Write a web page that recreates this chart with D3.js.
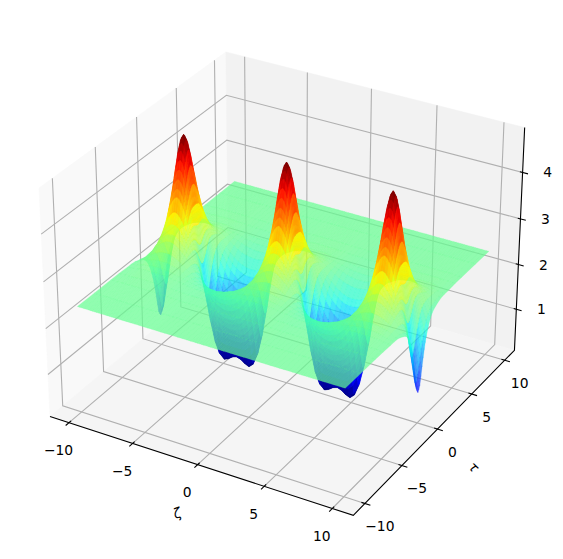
<!DOCTYPE html>
<html><head><meta charset="utf-8">
<script src="https://cdn.jsdelivr.net/npm/d3@7"></script>
<style>html,body{margin:0;padding:0;background:#fff}svg{display:block}text{font-family:"DejaVu Sans";font-size:13.89px;fill:#000}</style>
</head><body><svg id="c" width="563" height="559"></svg>
<script>
const zetaNodes=[-10,-9.82,-9.49,-9.16,-9,-8.83,-8.67,-8.51,-8.345,-8.18,-8.02,-7.85,-7.69,-7.53,-7.36,-7.2,-7.04,-6.87,-6.71,-6.54,-6.22,-5.89,-5.56,-5.24,-4.91,-4.58,-4.25,-3.93,-3.6,-3.27,-2.95,-2.62,-2.29,-1.96,-1.64,-1.31,-1.145,-.98,-.82,-.65,-.49,-.33,-.16,0,.16,.33,.49,.65,.82,.98,1.145,1.31,1.64,1.96,2.29,2.62,2.95,3.27,3.6,3.93,4.25,4.58,4.91,5.24,5.56,5.89,6.22,6.54,6.71,6.87,7.04,7.2,7.36,7.53,7.69,7.85,8.02,8.18,8.345,8.51,8.67,8.83,9,9.16,9.49,9.82,10];
const tauNodes=[-10,-8,-6,-5,-4,-3.5,-3,-2.5,-2,-1.75,-1.5,-1.25,-1,-.875,-.75,-.625,-.5,-.375,-.25,-.125,0,.125,.25,.375,.5,.625,.75,.875,1,1.25,1.5,1.75,2,2.5,3,3.5,4,5,6,8,10];

// one crest profile and one trough profile per tau row, read along zeta
const crest0=[2.18,2.58,2.99,3.42,3.85,4.24,4.56,4.77,4.85,4.77,4.56,4.24,3.85,3.42,2.99,2.58,2.18];
const trough0=[1.48,.92,.50,.26,.17,.21,.28,.31,.28,.21,.17,.26,.50,.92,1.48];
const row0=[.74,.92,1.48,...crest0,...trough0,...crest0,...trough0,...crest0,1.48,.92,.74];
const crest1=[2.20,2.59,3.00,3.42,3.84,4.22,4.53,4.73,4.81,4.73,4.53,4.22,3.84,3.42,3.00,2.59,2.20];
const trough1=[1.51,.96,.54,.31,.23,.26,.32,.35,.32,.26,.23,.31,.54,.96,1.51];
const row1=[.79,.96,1.51,...crest1,...trough1,...crest1,...trough1,...crest1,1.51,.96,.79];
const crest2=[2.26,2.63,3.02,3.41,3.81,4.17,4.46,4.65,4.71,4.65,4.46,4.17,3.81,3.41,3.02,2.63,2.26];
const trough2=[1.61,1.09,.72,.50,.41,.41,.43,.45,.43,.41,.41,.50,.72,1.09,1.61];
const row2=[.86,1.09,1.61,...crest2,...trough2,...crest2,...trough2,...crest2,1.61,1.09,.86];
const crest3=[2.33,2.68,3.03,3.40,3.75,4.08,4.34,4.50,4.56,4.50,4.34,4.08,3.75,3.40,3.03,2.68,2.33];
const trough3=[1.73,1.25,.91,.71,.61,.59,.59,.59,.59,.59,.61,.71,.91,1.25,1.73];
const row3=[1.04,1.25,1.73,...crest3,...trough3,...crest3,...trough3,...crest3,1.73,1.25,1.04];
const crest4=[2.41,2.73,3.05,3.38,3.68,3.96,4.19,4.33,4.38,4.33,4.19,3.96,3.68,3.38,3.05,2.73,2.41];
const trough4=[1.86,1.42,1.10,.91,.81,.76,.75,.74,.75,.76,.81,.91,1.10,1.42,1.86];
const row4=[1.23,1.42,1.86,...crest4,...trough4,...crest4,...trough4,...crest4,1.86,1.42,1.23];
const crest5=[2.49,2.76,3.05,3.33,3.60,3.84,4.03,4.15,4.19,4.15,4.03,3.84,3.60,3.33,3.05,2.76,2.49];
const trough5=[1.98,1.59,1.29,1.09,.99,.92,.90,.90,.90,.92,.99,1.09,1.29,1.59,1.98];
const row5=[1.41,1.59,1.98,...crest5,...trough5,...crest5,...trough5,...crest5,1.98,1.59,1.41];
const crest6=[2.54,2.78,3.03,3.28,3.50,3.70,3.87,3.96,4.00,3.96,3.87,3.70,3.50,3.28,3.03,2.78,2.54];
const trough6=[2.09,1.73,1.45,1.26,1.14,1.08,1.05,1.04,1.05,1.08,1.14,1.26,1.45,1.73,2.09];
const row6=[1.57,1.73,2.09,...crest6,...trough6,...crest6,...trough6,...crest6,2.09,1.73,1.57];
const crest7=[2.59,2.79,3.01,3.21,3.41,3.57,3.70,3.78,3.81,3.78,3.70,3.57,3.41,3.21,3.01,2.79,2.59];
const trough7=[2.18,1.85,1.61,1.42,1.29,1.23,1.19,1.18,1.19,1.23,1.29,1.42,1.61,1.85,2.18];
const row7=[1.71,1.85,2.18,...crest7,...trough7,...crest7,...trough7,...crest7,2.18,1.85,1.71];
const crest8=[2.61,2.79,2.97,3.14,3.31,3.45,3.55,3.62,3.65,3.62,3.55,3.45,3.31,3.14,2.97,2.79,2.61];
const trough8=[2.26,1.96,1.73,1.56,1.43,1.36,1.31,1.30,1.31,1.36,1.43,1.56,1.73,1.96,2.26];
const row8=[1.82,1.96,2.26,...crest8,...trough8,...crest8,...trough8,...crest8,2.26,1.96,1.82];
const crest9=[2.63,2.76,2.89,3.02,3.13,3.22,3.29,3.34,3.36,3.34,3.29,3.22,3.13,3.02,2.89,2.76,2.63];
const trough9=[2.36,2.12,1.92,1.77,1.66,1.59,1.55,1.53,1.55,1.59,1.66,1.77,1.92,2.12,2.36];
const row9=[2.00,2.12,2.36,...crest9,...trough9,...crest9,...trough9,...crest9,2.36,2.12,2.00];
const crest10=[2.61,2.71,2.81,2.89,2.97,3.03,3.09,3.12,3.13,3.12,3.09,3.03,2.97,2.89,2.81,2.71,2.61];
const trough10=[2.41,2.22,2.06,1.93,1.83,1.76,1.72,1.71,1.72,1.76,1.83,1.93,2.06,2.22,2.41];
const row10=[2.13,2.22,2.41,...crest10,...trough10,...crest10,...trough10,...crest10,2.41,2.22,2.13];
const crest11=[2.59,2.65,2.72,2.78,2.84,2.89,2.92,2.94,2.95,2.94,2.92,2.89,2.84,2.78,2.72,2.65,2.59];
const trough11=[2.43,2.28,2.15,2.04,1.96,1.90,1.86,1.85,1.86,1.90,1.96,2.04,2.15,2.28,2.43];
const row11=[2.21,2.28,2.43,...crest11,...trough11,...crest11,...trough11,...crest11,2.43,2.28,2.21];
const crest12=[2.55,2.61,2.65,2.70,2.74,2.77,2.80,2.81,2.82,2.81,2.80,2.77,2.74,2.70,2.65,2.61,2.55];
const trough12=[2.44,2.32,2.22,2.13,2.06,2.01,1.98,1.97,1.98,2.01,2.06,2.13,2.22,2.32,2.44];
const row12=[2.26,2.32,2.44,...crest12,...trough12,...crest12,...trough12,...crest12,2.44,2.32,2.26];
const crest13=[2.49,2.52,2.55,2.58,2.60,2.62,2.63,2.64,2.64,2.64,2.63,2.62,2.60,2.58,2.55,2.52,2.49];
const trough13=[2.43,2.36,2.30,2.24,2.19,2.16,2.14,2.13,2.14,2.16,2.19,2.24,2.30,2.36,2.43];
const row13=[2.32,2.36,2.43,...crest13,...trough13,...crest13,...trough13,...crest13,2.43,2.36,2.32];
const crest14=[2.46,2.48,2.49,2.50,2.51,2.52,2.53,2.53,2.53,2.53,2.53,2.52,2.51,2.50,2.49,2.48,2.46];
const trough14=[2.42,2.37,2.34,2.31,2.27,2.25,2.23,2.23,2.23,2.25,2.27,2.31,2.34,2.37,2.42];
const row14=[2.36,2.37,2.42,...crest14,...trough14,...crest14,...trough14,...crest14,2.42,2.37,2.36];
const crest15=[2.42,2.43,2.44,2.45,2.46,2.47,2.47,2.47,2.47,2.47,2.47,2.47,2.46,2.45,2.44,2.43,2.42];
const trough15=[2.40,2.38,2.36,2.33,2.32,2.30,2.29,2.29,2.29,2.30,2.32,2.33,2.36,2.38,2.40];
const row15=[2.37,2.38,2.40,...crest15,...trough15,...crest15,...trough15,...crest15,2.40,2.38,2.37];
const crest16=[2.41,2.42,2.42,2.43,2.43,2.43,2.43,2.43,2.43,2.43,2.43,2.43,2.43,2.43,2.42,2.42,2.41];
const trough16=[2.39,2.38,2.37,2.35,2.34,2.33,2.33,2.33,2.33,2.33,2.34,2.35,2.37,2.38,2.39];
const row16=[2.37,2.38,2.39,...crest16,...trough16,...crest16,...trough16,...crest16,2.39,2.38,2.37];
const crest17=[2.39,2.39,2.39,2.40,2.40,2.40,2.40,2.40,2.40,2.40,2.40,2.40,2.40,2.40,2.39,2.39,2.39];
const trough17=[2.39,2.38,2.37,2.37,2.37,2.36,2.36,2.36,2.36,2.36,2.37,2.37,2.37,2.38,2.39];
const row17=[2.38,2.38,2.39,...crest17,...trough17,...crest17,...trough17,...crest17,2.39,2.38,2.38];
const crest18=[2.39,2.39,2.39,2.39,2.39,2.39,2.39,2.39,2.39,2.39,2.39,2.39,2.39,2.39,2.39,2.39,2.39];
const trough18=[2.38,2.38,2.38,2.38,2.37,2.37,2.37,2.37,2.37,2.37,2.37,2.38,2.38,2.38,2.38];
const row18=[2.38,2.38,2.38,...crest18,...trough18,...crest18,...trough18,...crest18,2.38,2.38,2.38];
const crest19=[2.38,2.38,2.38,2.38,2.38,2.38,2.38,2.38,2.38,2.38,2.38,2.38,2.38,2.38,2.38,2.38,2.38];
const trough19=[2.38,2.38,2.38,2.38,2.38,2.38,2.38,2.38,2.38,2.38,2.38,2.38,2.38,2.38,2.38];
const row19=[2.38,2.38,2.38,...crest19,...trough19,...crest19,...trough19,...crest19,2.38,2.38,2.38];

const surfaceRows=[row19,row19,row18,row17,row16,row15,row14,row13,row12,row11,row10,row9,row8,row7,row6,row5,row4,row3,row2,row1,row0,row1,row2,row3,row4,row5,row6,row7,row8,row9,row10,row11,row12,row13,row14,row15,row16,row17,row18,row19,row19];
const zetaTicks=[-10,-5,0,5,10], tauTicks=[-10,-5,0,5,10], heightTicks=[1,2,3,4];
const zetaLim=[-11.52,11.52], tauLim=[-11.52,11.52], heightLim=[0.07,4.95];

const sx=d3.scaleLinear().domain(zetaLim).range([-.595,.595]);
const sy=d3.scaleLinear().domain(tauLim).range([-.595,.595]);
const sz=d3.scaleLinear().domain(heightLim).range([-.4465,.4465]);
const px=d3.scaleLinear().domain([-1,1]).range([286.5-292,286.5+292]);
const py=d3.scaleLinear().domain([-1,1]).range([272.5+291.5,272.5-291.5]);
const el=30*Math.PI/180, az=-60*Math.PI/180, dist=10;
const n=[Math.cos(el)*Math.cos(az),Math.cos(el)*Math.sin(az),Math.sin(el)];
const u=[-Math.sin(az),Math.cos(az),0];
const v=[n[1]*u[2]-n[2]*u[1],n[2]*u[0]-n[0]*u[2],n[0]*u[1]-n[1]*u[0]];
function proj(x,y,z){
  const p=[sx(x),sy(y),sz(z)];
  const d=dist-(p[0]*n[0]+p[1]*n[1]+p[2]*n[2]);
  const X=p[0]*u[0]+p[1]*u[1]+p[2]*u[2], Y=p[0]*v[0]+p[1]*v[1]+p[2]*v[2];
  return {x:px(X*dist/d),y:py(Y*dist/d),d};
}
const [x0,x1]=zetaLim,[y0,y1]=tauLim,[z0,z1]=heightLim;
const svg=d3.select('#c');
const poly=pts=>d3.line().x(p=>p.x).y(p=>p.y)(pts)+'Z';
const P=(a)=>a.map(q=>proj(q[0],q[1],q[2]));
function pane(c,col){svg.append('path').attr('d',poly(P(c))).attr('fill',col).attr('stroke',col).attr('stroke-width',.5);}
pane([[x0,y0,z0],[x0,y1,z0],[x0,y1,z1],[x0,y0,z1]],'#f9f9f9');
pane([[x0,y1,z0],[x1,y1,z0],[x1,y1,z1],[x0,y1,z1]],'#f2f2f2');
pane([[x0,y0,z0],[x1,y0,z0],[x1,y1,z0],[x0,y1,z0]],'#f5f5f5');
const gridG=svg.append('g').attr('fill','none').attr('stroke','#b0b0b0').attr('stroke-width',1.1);
const lineD=d3.line().x(p=>p.x).y(p=>p.y);
zetaTicks.forEach(t=>gridG.append('path').attr('d',lineD(P([[t,y0,z0],[t,y1,z0],[t,y1,z1]]))));
tauTicks.forEach(t=>gridG.append('path').attr('d',lineD(P([[x1,t,z0],[x0,t,z0],[x0,t,z1]]))));
heightTicks.forEach(t=>gridG.append('path').attr('d',lineD(P([[x0,y0,t],[x0,y1,t],[x1,y1,t]]))));
const axG=svg.append('g').attr('fill','none').attr('stroke','#000').attr('stroke-width',1.1);
axG.append('path').attr('d',lineD(P([[x0,y0,z0],[x1,y0,z0],[x1,y1,z0],[x1,y1,z1]])));
zetaTicks.forEach(t=>axG.append('path').attr('d',lineD(P([[t,y0-.4,z0],[t,y0+.25,z0]]))));
tauTicks.forEach(t=>axG.append('path').attr('d',lineD(P([[x1+.4,t,z0],[x1-.25,t,z0]]))));
heightTicks.forEach(t=>axG.append('path').attr('d',lineD(P([[x1-.2,y1,t],[x1+.4,y1,t]]))));
const lab=(txt,p,dx,dy)=>svg.append('text').attr('x',p.x+dx).attr('y',p.y+dy).attr('text-anchor','middle').attr('dominant-baseline','central').text(txt);
const fmt=t=>String(t).replace('-','\u2212');
zetaTicks.forEach(t=>lab(fmt(t),proj(t,y0,z0),-10.5,27.5));
tauTicks.forEach(t=>lab(fmt(t),proj(x1,t,z0),15,22.5));
heightTicks.forEach(t=>lab(fmt(t),proj(x1,y1,t),25,0));
svg.append('text').attr('transform','translate(177,513) rotate(-20)').attr('text-anchor','middle').attr('dominant-baseline','central').attr('font-style','italic').text('\u03b6');
svg.append('text').attr('transform','translate(474,467) rotate(45)').attr('text-anchor','middle').attr('dominant-baseline','central').attr('font-style','italic').text('\u03c4');

const jr=d3.scaleLinear().domain([0,.35,.66,.89,1]).range([0,0,1,1,.5]);
const jg=d3.scaleLinear().domain([0,.125,.375,.64,.91,1]).range([0,0,1,1,0,0]);
const jb=d3.scaleLinear().domain([0,.11,.34,.65,1]).range([.5,1,1,0,0]);
const jet=t=>`rgb(${Math.round(255*jr(t))},${Math.round(255*jg(t))},${Math.round(255*jb(t))})`;
const faces=[];
for(let j=0;j<tauNodes.length-1;j++)for(let i=0;i<zetaNodes.length-1;i++){
  const c=[[i,j],[i+1,j],[i+1,j+1],[i,j+1]].map(([a,b])=>proj(zetaNodes[a],tauNodes[b],surfaceRows[b][a]));
  const m=d3.mean([surfaceRows[j][i],surfaceRows[j][i+1],surfaceRows[j+1][i],surfaceRows[j+1][i+1]]);
  faces.push({c,m,d:d3.mean(c,q=>q.d)});
}
faces.sort((a,b)=>b.d-a.d);
const norm=d3.scaleLinear().domain(d3.extent(faces,f=>f.m)).range([0,1]);
const faceAlpha=d3.scaleLinear().domain([0,.07,.14,.5,.72,1]).range([1,.97,.72,.7,.93,1]);
svg.append('g').selectAll('path').data(faces).join('path')
  .attr('d',f=>poly(f.c)).attr('fill',f=>jet(norm(f.m))).attr('fill-opacity',f=>faceAlpha(norm(f.m)))
  .attr('stroke',f=>jet(norm(f.m))).attr('stroke-width',.25).attr('stroke-opacity',f=>faceAlpha(norm(f.m)));
</script></body></html>
